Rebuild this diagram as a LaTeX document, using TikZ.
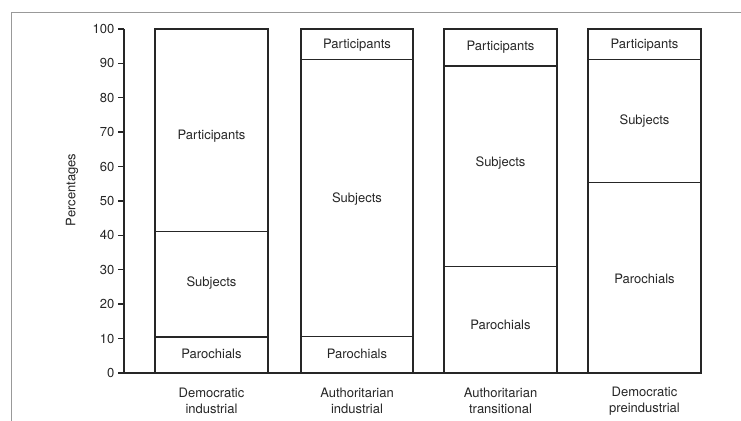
\documentclass[tikz,border=0pt]{standalone}
\usepackage{fontspec}
\setmainfont{TeX Gyre Heros}
\usepackage{tikz}

\begin{document}
\begin{tikzpicture}[x=1pt, y=3.44pt,
		txt/.style={text=black!85, font=\fontsize{13}{16}\selectfont, inner sep=0pt},
		ticklabel/.style={txt, anchor=east, inner sep=3pt},
		bar/.style={line width=1.4pt, color=black!85},
		frame/.style={line width=1pt, color=black!40}]
		%%%%% START %%%%%
		
		\useasboundingbox (0, -13.95) rectangle (741, 108.43);
		
		\draw[frame] (11, -13.95) -- (11, 104.65) -- (741, 104.65);
		
		\draw[bar] (124, 100) -- (124, 0) -- (701, 0);
		
		\draw[bar] (124, 0) -- (118, 0) node[ticklabel] (t0) {0};
		\draw[bar] (124, 10) -- (118, 10) node[ticklabel] (t10) {10};
		\draw[bar] (124, 20) -- (118, 20) node[ticklabel] (t20) {20};
		\draw[bar] (124, 30) -- (118, 30) node[ticklabel] (t30) {30};
		\draw[bar] (124, 40) -- (118, 40) node[ticklabel] (t40) {40};
		\draw[bar] (124, 50) -- (118, 50) node[ticklabel] (t50) {50};
		\draw[bar] (124, 60) -- (118, 60) node[ticklabel] (t60) {60};
		\draw[bar] (124, 70) -- (118, 70) node[ticklabel] (t70) {70};
		\draw[bar] (124, 80) -- (118, 80) node[ticklabel] (t80) {80};
		\draw[bar] (124, 90) -- (118, 90) node[ticklabel] (t90) {90};
		\draw[bar] (124, 100) -- (118, 100) node[ticklabel] (t100) {100};
		
		\node[txt, rotate=90] (ylabel) at (72, 53.2) {Percentages};
		
		% democratic industrial
		\draw[bar] (155, 0) rectangle (268, 100);
		\draw[bar] (155, 10.5) -- (268, 10.5);
		\draw[bar] (155, 41.2) -- (268, 41.2);
		\node[txt] (dipart) at (211.5, 68.9) {Participants};
		\node[txt] (disubj) at (211.5, 26.2) {Subjects};
		\node[txt] (dipar) at (211.5, 5.5) {Parochials};
		\node[txt, align=center] (di) at (211.5, -8.2) {Democratic\\industrial};
		
		% authoritarian industrial
		\draw[bar] (301, 0) rectangle (413, 100);
		\draw[bar] (301, 10.6) -- (413, 10.6);
		\draw[bar] (301, 91.2) -- (413, 91.2);
		\node[txt] (aipart) at (357, 95.3) {Participants};
		\node[txt] (aisubj) at (357, 50.6) {Subjects};
		\node[txt] (aipar) at (357, 5.5) {Parochials};
		\node[txt, align=center] (ai) at (357, -8.2) {Authoritarian\\industrial};
		
		% authoritarian transitional
		\draw[bar] (444, 0) rectangle (557, 100);
		\draw[bar] (444, 31) -- (557, 31);
		\draw[bar] (444, 89.2) -- (557, 89.2);
		\node[txt] (atpart) at (500.5, 94.8) {Participants};
		\node[txt] (atsubj) at (500.5, 61) {Subjects};
		\node[txt] (atpar) at (500.5, 14) {Parochials};
		\node[txt, align=center] (at) at (500.5, -8.2) {Authoritarian\\transitional};
		
		% democratic preindustrial
		\draw[bar] (588, 0) rectangle (701, 100);
		\draw[bar] (588, 55.4) -- (701, 55.4);
		\draw[bar] (588, 91.2) -- (701, 91.2);
		\node[txt] (dppart) at (644.5, 95.3) {Participants};
		\node[txt] (dpsubj) at (644.5, 73.3) {Subjects};
		\node[txt] (dppar) at (644.5, 27.3) {Parochials};
		\node[txt, align=center] (dp) at (644.5, -8.2) {Democratic\\preindustrial};
		
		%%%%% END %%%%%
	\end{tikzpicture}
\end{document}
